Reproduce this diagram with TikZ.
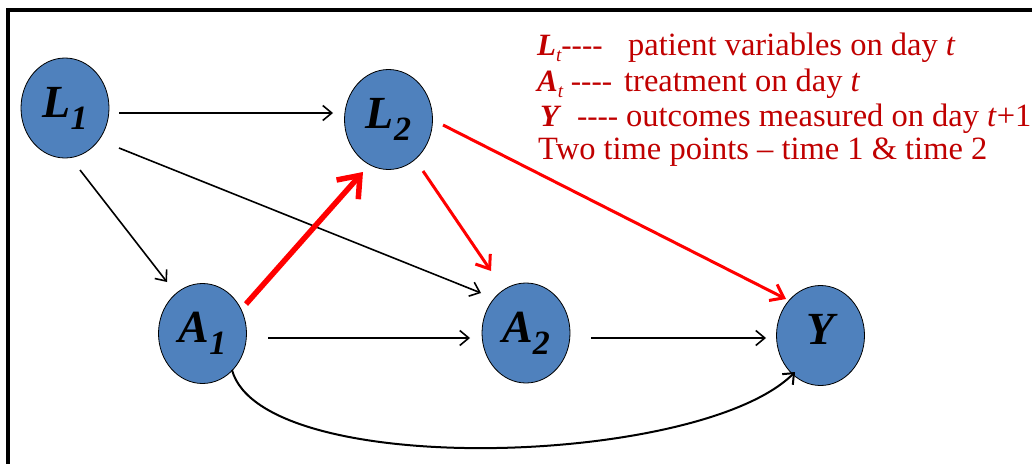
\documentclass[tikz,border=0pt]{standalone}
\usepackage{fontspec}
\setmainfont{Liberation Serif}
\usetikzlibrary{shapes.geometric,arrows.meta,calc}
\definecolor{nodeblue}{HTML}{4F81BD}
\definecolor{legendred}{HTML}{C00000}
\definecolor{arrowred}{HTML}{FF0000}

% variable name with a large lowered subscript, as used inside the nodes
\newcommand{\varlab}[2]{{\fontsize{46}{46}\selectfont\bfseries\itshape #1}\raisebox{-12pt}{\fontsize{34}{34}\selectfont\bfseries\itshape #2}}
% small italic subscript for the legend
\newcommand{\legsub}[1]{\raisebox{-6pt}{\fontsize{19}{19}\selectfont\itshape #1}}
% four separate hyphens (no dash ligature)
\newcommand{\dashes}{{-}{-}{-}{-}}

\begin{document}
\begin{tikzpicture}[x=1pt,y=-1pt,
  var/.style={ellipse, draw=black, line width=0.8pt, fill=nodeblue,
    minimum width=88pt, minimum height=100pt, inner sep=0pt},
  blackarrow/.style={line width=1.6pt, -{Straight Barb[length=9pt,width=15pt]}},
  redarrow/.style={arrowred, line width=3pt, -{Straight Barb[length=12pt,width=18pt]}},
  boldredarrow/.style={arrowred, line width=5.5pt, -{Straight Barb[length=19pt,width=29pt]}},
  legend/.style={anchor=base west, inner sep=0pt, text=legendred,
    font=\fontsize{32.5}{32.5}\selectfont},
  legendkey/.style={legend, font=\fontsize{31}{31}\selectfont},
  frame/.style={line width=4pt}]

\useasboundingbox (0,0) rectangle (1032,463);

% open frame: left and top edges
\coordinate (fbl) at (8,465);
\coordinate (ftl) at (8,10);
\coordinate (ftr) at (1034,10);
\draw[frame] (fbl) -- (ftl) -- (ftr);

% variables
\node[var] (L1) at (65,108)    {\varlab{L}{1}};
\node[var] (L2) at (388.5,119.5) {\varlab{L}{2}};
\node[var] (A1) at (202.5,333.5) {\varlab{A}{1}};
\node[var] (A2) at (526,333)   {\varlab{A}{2}};
\node[var] (Y)  at (820.5,335.5) {\varlab{Y}{}};

% causal arrows
\draw[blackarrow] ($(L1)+(54,5)$) -- ($(L2)+(-55.5,-6.5)$);
\draw[blackarrow] ($(L1)+(54,40)$) -- ($(A2)+(-45,-40)$);
\draw[blackarrow] ($(L1)+(15,62)$) -- ($(A1)+(-35.5,-51.5)$);
\draw[blackarrow] ($(A1)+(65.5,4.5)$) -- ($(A2)+(-56,5)$);
\draw[blackarrow] ($(A2)+(65,5)$) -- ($(Y)+(-54.5,2.5)$);
\draw[redarrow] ($(L2)+(34.5,51.5)$) -- ($(A2)+(-35,-62)$);
\draw[redarrow] ($(L2)+(54.5,5.5)$) -- ($(Y)+(-34.5,-36.5)$);
\draw[boldredarrow] ($(A1)+(43.5,-29.5)$) -- ($(L2)+(-25.5,52.5)$);
\draw[line width=2pt, -{Straight Barb[length=9pt,width=15pt]}]
  ($(A1)+(29.5,36.5)$) .. controls (262,480) and (700,467) .. ($(Y)+(-25.5,36.5)$);

% legend: symbol with dashes, then its meaning
\node[legendkey] (key1) at (537,55)  {\textbf{\textit{L}}\legsub{t}\dashes};
\node[legend]    (txt1) at (628,55)  {patient variables on day \textit{t}};
\node[legendkey] (key2) at (537,91)  {\textbf{\textit{A}}\legsub{t} \dashes};
\node[legend]    (txt2) at (624,91)  {treatment on day \textit{t}};
\node[legendkey] (key3) at (540,126) {\textbf{\textit{Y}}\ \ \dashes};
\node[legend]    (txt3) at (626,126) {outcomes measured on day \textit{t}+1};
\node[legend]    (txt4) at (538,159) {Two time points – time 1 \& time 2};
\end{tikzpicture}
\end{document}
